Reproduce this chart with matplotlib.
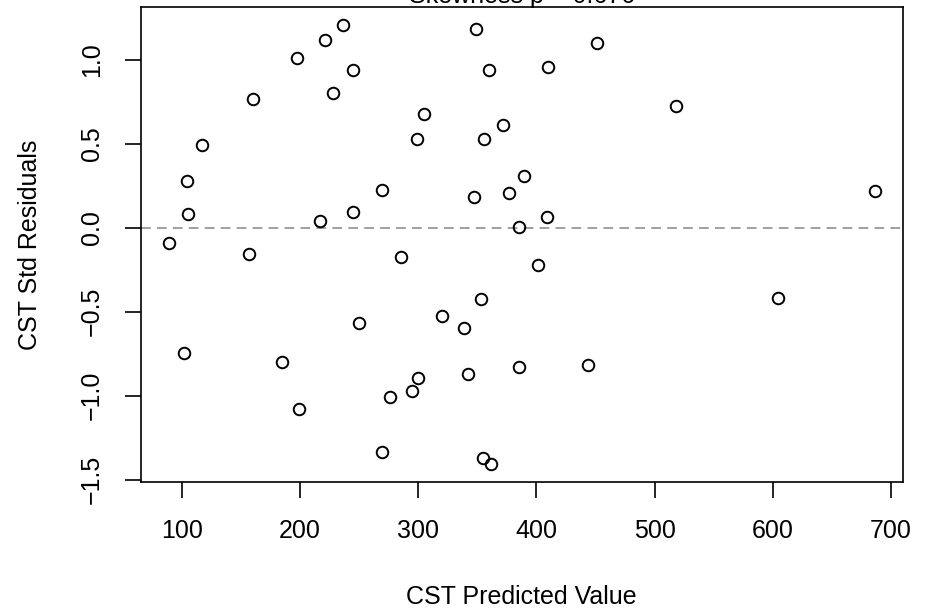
import numpy as np
import matplotlib
matplotlib.use("Agg")
import matplotlib.pyplot as plt

# predicted values and standardized residuals
predicted = [89.3, 104.8, 105.6, 116.9, 160.1, 197.8, 221.2, 236.2, 245.2, 228.3,
             216.8, 244.9, 269.5, 299.3, 304.7, 349.0, 360.2, 347.0, 355.5, 372.1,
             377.2, 385.1, 389.9, 451.6, 409.9, 517.9, 409.1, 686.3, 157.2, 285.3,
             353.0, 320.0, 249.7, 339.1, 102.2, 184.9, 342.2, 385.6, 300.2, 294.8,
             276.0, 199.2, 269.5, 354.6, 361.4, 401.2, 604.5, 443.7]
residuals = [-0.089, 0.278, 0.083, 0.494, 0.765, 1.011, 1.116, 1.205, 0.936, 0.803,
             0.042, 0.092, 0.226, 0.529, 0.676, 1.180, 0.938, 0.181, 0.529, 0.612,
             0.206, 0.004, 0.309, 1.100, 0.957, 0.724, 0.062, 0.218, -0.158, -0.174,
             -0.426, -0.527, -0.567, -0.598, -0.747, -0.798, -0.870, -0.826, -0.892, -0.969,
             -1.008, -1.080, -1.335, -1.371, -1.409, -0.224, -0.420, -0.816]
x_ticks = [100, 200, 300, 400, 500, 600, 700]
y_ticks = [-1.5, -1.0, -0.5, 0.0, 0.5, 1.0]

title = "Skewness p = 0.676"
x_label = "CST Predicted Value"
y_label = "CST Std Residuals"

plt.rcParams['font.family'] = ['Liberation Sans', 'DejaVu Sans']

W, H = 930, 612
fig = plt.figure(figsize=(W / 100, H / 100), dpi=100)
ax = fig.add_axes([140.7 / W, 1 - 482.3 / H, (902.5 - 140.7) / W, (482.3 - 7.3) / H])

ax.axhline(0, color='#a0a0a0', lw=1.4, linestyle=(0, (5, 3.2)), zorder=1)
ax.plot(predicted, residuals, linestyle='none', marker='o', markersize=8.3,
        markerfacecolor='none', markeredgecolor='black', markeredgewidth=1.4, zorder=2)

ax.set_xlim(65.3, 709.8)
ax.set_ylim(-1.515, 1.312)
ax.set_xticks(x_ticks)
ax.set_yticks(y_ticks)
ax.set_xticklabels([str(v) for v in x_ticks])
ax.set_yticklabels([f"{v:.1f}".replace("-", "\u2212") for v in y_ticks])

for s in ax.spines.values():
    s.set_linewidth(1.2)
    s.set_color('black')
ax.tick_params(length=11.5, width=1.2, labelsize=18, pad=15, colors='black')
ax.tick_params(axis='y', labelrotation=90)
for t in ax.get_yticklabels():
    t.set_va('center')

# title sits partly above the top edge, as in the reference
fig.text(521.6 / W, 1 - 3.5 / H, title, ha='center', va='baseline', fontsize=18)
fig.text(521.6 / W, 7.7 / H, x_label, ha='center', va='baseline', fontsize=18)
fig.text(30 / W, 1 - 244.8 / H, y_label, ha='center', va='center', rotation=90, fontsize=18)

fig.savefig("out.png", dpi=100)
